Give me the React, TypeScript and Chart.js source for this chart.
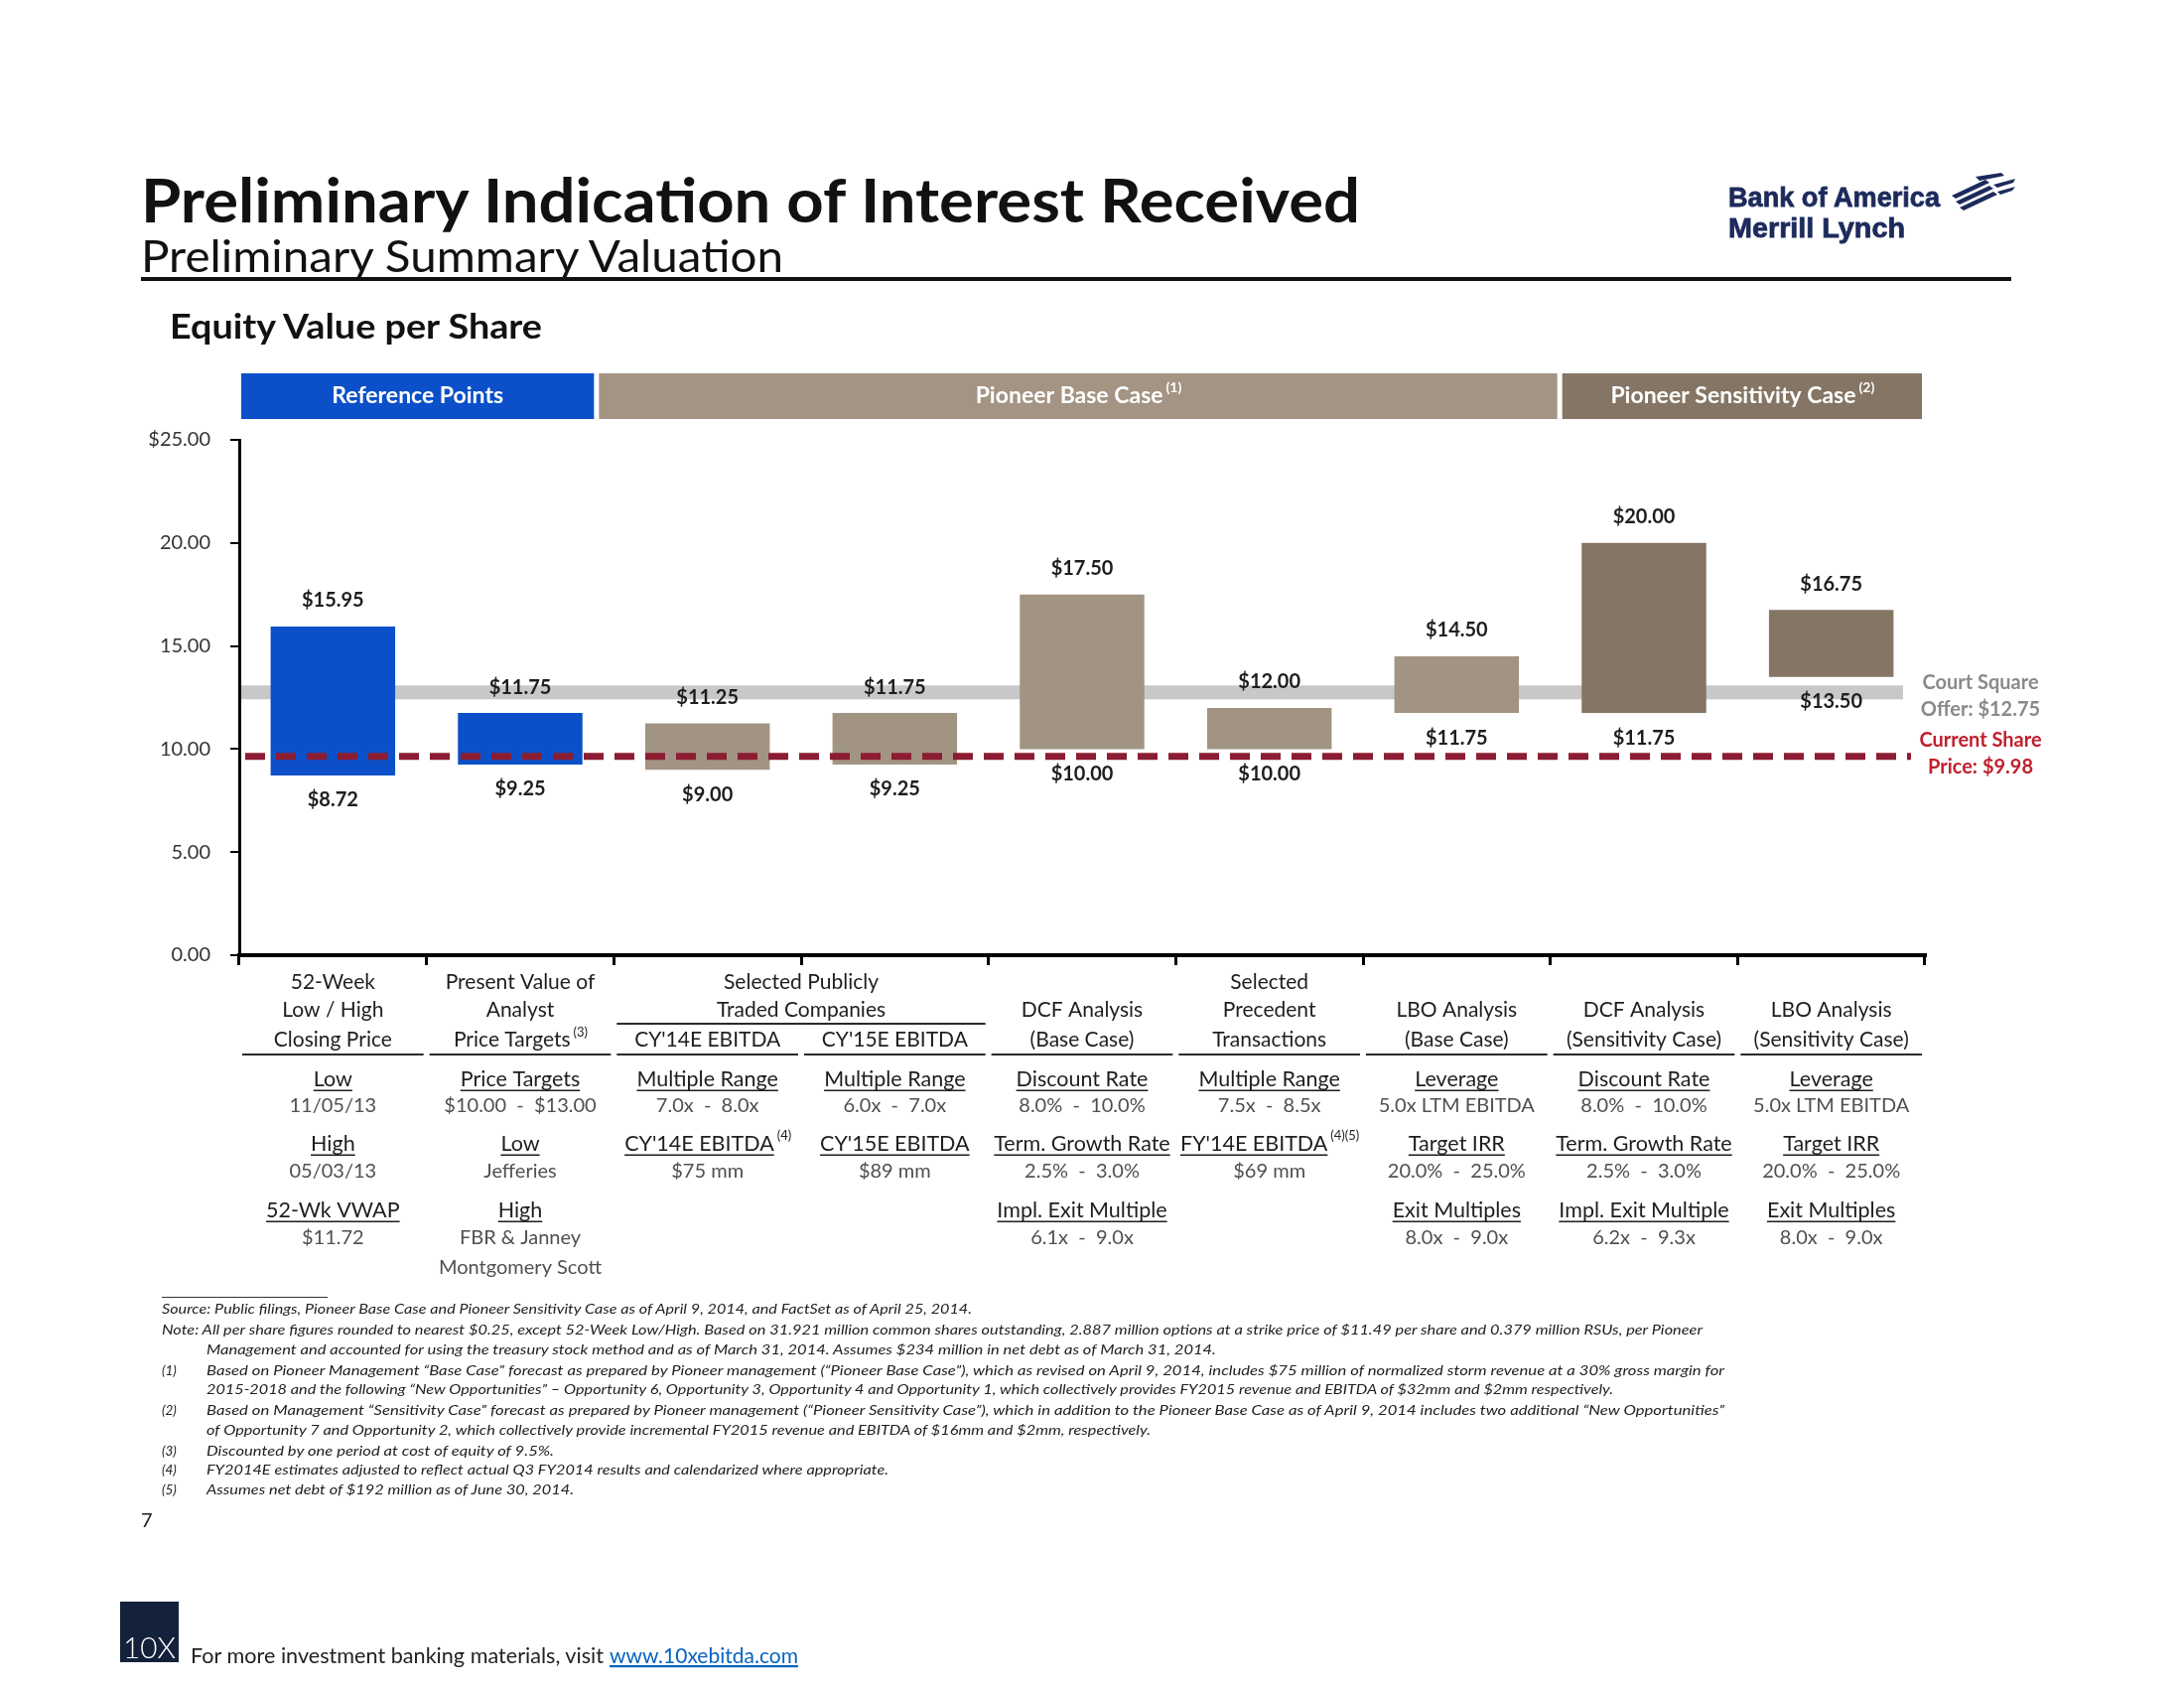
import React, { useEffect, useRef } from "react";
import { Chart, registerables } from "chart.js";

Chart.register(...registerables);

// ---------------- data ----------------
const categories = [
  "52-Week Low / High Closing Price",
  "Present Value of Analyst Price Targets",
  "Selected Publicly Traded Companies CY'14E EBITDA",
  "Selected Publicly Traded Companies CY'15E EBITDA",
  "DCF Analysis (Base Case)",
  "Selected Precedent Transactions",
  "LBO Analysis (Base Case)",
  "DCF Analysis (Sensitivity Case)",
  "LBO Analysis (Sensitivity Case)",
];
const lowValues = [8.72, 9.25, 9.0, 9.25, 10.0, 10.0, 11.75, 11.75, 13.5];
const highValues = [15.95, 11.75, 11.25, 11.75, 17.5, 12.0, 14.5, 20.0, 16.75];
const caseGroups = ["ref", "ref", "base", "base", "base", "base", "base", "sens", "sens"];

const yMin = 0;
const yMax = 25;
const yStep = 5;

const offerPrice = 12.75;
const currentSharePrice = 9.98;
const offerLabel = ["Court Square", "Offer: $" + offerPrice.toFixed(2)];
const currentLabel = ["Current Share", "Price: $" + currentSharePrice.toFixed(2)];

const bandGroups = ["ref", "base", "sens"];
const bandLabels = ["Reference Points", "Pioneer Base Case", "Pioneer Sensitivity Case"];
const bandNotes = ["", "(1)", "(2)"];

const headerRow1 = ["52-Week", "Present Value of", "", "", "", "Selected", "", "", ""];
const headerRow2 = ["Low / High", "Analyst", "", "", "DCF Analysis", "Precedent", "LBO Analysis", "DCF Analysis", "LBO Analysis"];
const headerRow3 = ["Closing Price", "Price Targets", "CY'14E EBITDA", "CY'15E EBITDA", "(Base Case)", "Transactions", "(Base Case)", "(Sensitivity Case)", "(Sensitivity Case)"];
const headerRow3Notes = ["", "(3)", "", "", "", "", "", "", ""];
const spanHeaderLines = ["Selected Publicly", "Traded Companies"];
const spanHeaderColumns = [2, 3];

const detailLabels1 = ["Low", "Price Targets", "Multiple Range", "Multiple Range", "Discount Rate", "Multiple Range", "Leverage", "Discount Rate", "Leverage"];
const detailValues1 = ["11/05/13", "$10.00  -  $13.00", "7.0x  -  8.0x", "6.0x  -  7.0x", "8.0%  -  10.0%", "7.5x  -  8.5x", "5.0x LTM EBITDA", "8.0%  -  10.0%", "5.0x LTM EBITDA"];
const detailLabels2 = ["High", "Low", "CY'14E EBITDA", "CY'15E EBITDA", "Term. Growth Rate", "FY'14E EBITDA", "Target IRR", "Term. Growth Rate", "Target IRR"];
const detailNotes2 = ["", "", "(4)", "", "", "(4)(5)", "", "", ""];
const detailValues2 = ["05/03/13", "Jefferies", "$75 mm", "$89 mm", "2.5%  -  3.0%", "$69 mm", "20.0%  -  25.0%", "2.5%  -  3.0%", "20.0%  -  25.0%"];
const detailLabels3 = ["52-Wk VWAP", "High", "", "", "Impl. Exit Multiple", "", "Exit Multiples", "Impl. Exit Multiple", "Exit Multiples"];
const detailValues3 = ["$11.72", "FBR & Janney", "", "", "6.1x  -  9.0x", "", "8.0x  -  9.0x", "6.2x  -  9.3x", "8.0x  -  9.0x"];
const detailValues4 = ["", "Montgomery Scott", "", "", "", "", "", "", ""];

const footnoteMarkers = ["", "", "", "(1)", "", "(2)", "", "(3)", "(4)", "(5)"];
const footnoteLines = [
  "Source: Public filings, Pioneer Base Case and Pioneer Sensitivity Case as of April 9, 2014, and FactSet as of April 25, 2014.",
  "Note: All per share figures rounded to nearest $0.25, except 52-Week Low/High. Based on 31.921 million common shares outstanding, 2.887 million options at a strike price of $11.49 per share and 0.379 million RSUs, per Pioneer",
  "Management and accounted for using the treasury stock method and  as of March 31, 2014. Assumes $234 million in net debt as of March 31, 2014.",
  "Based on Pioneer Management \u201cBase Case\u201d forecast as prepared by Pioneer management (\u201cPioneer Base Case\u201d), which as revised on April 9, 2014, includes $75 million of normalized storm revenue at a 30% gross margin for",
  "2015-2018 and the following \u201cNew Opportunities\u201d \u2013 Opportunity 6, Opportunity 3, Opportunity 4 and Opportunity 1, which collectively provides FY2015 revenue and EBITDA of $32mm and $2mm respectively.",
  "Based on Management \u201cSensitivity Case\u201d forecast as prepared by Pioneer management (\u201cPioneer Sensitivity Case\u201d), which in addition to the Pioneer Base Case as of April 9, 2014 includes two additional \u201cNew Opportunities\u201d",
  "of Opportunity 7 and Opportunity 2, which collectively provide incremental FY2015 revenue and EBITDA of $16mm and $2mm, respectively.",
  "Discounted by one period at cost of equity of 9.5%.",
  "FY2014E estimates adjusted to reflect actual Q3 FY2014 results and calendarized where appropriate.",
  "Assumes net debt of $192 million as of June 30, 2014.",
];

// ---------------- styles ----------------
const FONT = "Lato, 'Open Sans', sans-serif";
const groupBarColors: Record<string, string> = { ref: "#0b50c8", base: "#a29483", sens: "#857565" };
const groupBandColors: Record<string, string> = { ref: "#0b50c8", base: "#a39483", sens: "#857565" };

function drawTextWithNote(
  ctx: CanvasRenderingContext2D,
  text: string,
  note: string,
  cx: number,
  cy: number,
  size: number,
  weight: string,
  color: string,
  underline: boolean
) {
  ctx.font = `${weight} ${size}px ${FONT}`;
  const w = ctx.measureText(text).width;
  const noteSize = Math.round(size * 0.6);
  let nw = 0;
  if (note) {
    ctx.font = `${weight} ${noteSize}px ${FONT}`;
    nw = ctx.measureText(note).width + 2;
  }
  const left = cx - (w + nw) / 2;
  ctx.fillStyle = color;
  ctx.textAlign = "left";
  ctx.textBaseline = "middle";
  ctx.font = `${weight} ${size}px ${FONT}`;
  ctx.fillText(text, left, cy);
  if (underline) {
    ctx.strokeStyle = color;
    ctx.lineWidth = 1.5;
    ctx.beginPath();
    ctx.moveTo(left, cy + size * 0.52);
    ctx.lineTo(left + w, cy + size * 0.52);
    ctx.stroke();
  }
  if (note) {
    ctx.font = `${weight} ${noteSize}px ${FONT}`;
    ctx.fillText(note, left + w + 3, cy - size * 0.36);
  }
}

const pagePlugin = {
  id: "pagePlugin",
  beforeDatasetsDraw(chart: any) {
    const { ctx, chartArea, scales } = chart;
    const y = scales.y;
    const yy = y.getPixelForValue(offerPrice);
    ctx.save();
    ctx.fillStyle = "#c8c8c8";
    ctx.fillRect(chartArea.left + 2, yy - 7, chartArea.right - 22 - chartArea.left - 2, 14);
    ctx.restore();
  },
  afterDatasetsDraw(chart: any) {
    const { ctx, chartArea, scales } = chart;
    const x = scales.x;
    const y = scales.y;
    const half = (x.getPixelForValue(1) - x.getPixelForValue(0)) / 2;
    ctx.save();

    // current share price dashed line
    const ry = y.getPixelForValue(currentSharePrice);
    ctx.strokeStyle = "#8c1c32";
    ctx.lineWidth = 7;
    ctx.setLineDash([20, 11]);
    ctx.beginPath();
    ctx.moveTo(chartArea.left + 6, ry + 7);
    ctx.lineTo(chartArea.right - 14, ry + 7);
    ctx.stroke();
    ctx.setLineDash([]);

    // bar value labels
    const meta = chart.getDatasetMeta(0);
    meta.data.forEach((bar: any, i: number) => {
      const top = y.getPixelForValue(highValues[i]);
      const bottom = y.getPixelForValue(lowValues[i]);
      drawTextWithNote(ctx, "$" + highValues[i].toFixed(2), "", bar.x, top - 26, 20, "bold", "#1e1e1e", false);
      drawTextWithNote(ctx, "$" + lowValues[i].toFixed(2), "", bar.x, bottom + 25, 20, "bold", "#1e1e1e", false);
    });

    // right-side annotations
    const ax = chartArea.right + 56;
    const oy = y.getPixelForValue(offerPrice);
    drawTextWithNote(ctx, offerLabel[0], "", ax, oy - 10, 20, "bold", "#8a8a8a", false);
    drawTextWithNote(ctx, offerLabel[1], "", ax, oy + 17, 20, "bold", "#8a8a8a", false);
    drawTextWithNote(ctx, currentLabel[0], "", ax, ry - 9, 20, "bold", "#c0202e", false);
    drawTextWithNote(ctx, currentLabel[1], "", ax, ry + 18, 20, "bold", "#c0202e", false);

    // header bands
    const bandAdjust: Record<string, [number, number]> = { ref: [2, -20], base: [-15, 7], sens: [12, -3] };
    bandGroups.forEach((g, bi) => {
      const idx = caseGroups.map((c, i) => (c === g ? i : -1)).filter((i) => i >= 0);
      const l = x.getPixelForValue(idx[0]) - half + bandAdjust[g][0];
      const r = x.getPixelForValue(idx[idx.length - 1]) + half + bandAdjust[g][1];
      ctx.fillStyle = groupBandColors[g];
      ctx.fillRect(l, 376, r - l, 46);
      drawTextWithNote(ctx, bandLabels[bi], bandNotes[bi], (l + r) / 2, 399, 23, "bold", "#ffffff", false);
    });

    // table under the axis
    const headRows = [headerRow1, headerRow2, headerRow3];
    const headY = [989, 1017, 1047];
    for (let i = 0; i < categories.length; i++) {
      const cx = x.getPixelForValue(i);
      headRows.forEach((row, r) => {
        if (row[i]) drawTextWithNote(ctx, row[i], r === 2 ? headerRow3Notes[i] : "", cx, headY[r], 21, "normal", "#1e1e1e", false);
      });
      // column underline
      ctx.strokeStyle = "#2a2a2a";
      ctx.lineWidth = 2;
      ctx.beginPath();
      ctx.moveTo(cx - half + 3, 1062);
      ctx.lineTo(cx + half - 3, 1062);
      ctx.stroke();

      if (detailLabels1[i]) drawTextWithNote(ctx, detailLabels1[i], "", cx, 1087, 21.5, "normal", "#1e1e1e", true);
      if (detailValues1[i]) drawTextWithNote(ctx, detailValues1[i], "", cx, 1114, 20, "normal", "#505050", false);
      if (detailLabels2[i]) drawTextWithNote(ctx, detailLabels2[i], detailNotes2[i], cx, 1152, 21.5, "normal", "#1e1e1e", true);
      if (detailValues2[i]) drawTextWithNote(ctx, detailValues2[i], "", cx, 1180, 20, "normal", "#505050", false);
      if (detailLabels3[i]) drawTextWithNote(ctx, detailLabels3[i], "", cx, 1219, 21.5, "normal", "#1e1e1e", true);
      if (detailValues3[i]) drawTextWithNote(ctx, detailValues3[i], "", cx, 1247, 20, "normal", "#505050", false);
      if (detailValues4[i]) drawTextWithNote(ctx, detailValues4[i], "", cx, 1277, 20, "normal", "#505050", false);
    }
    // spanning header
    const sl = x.getPixelForValue(spanHeaderColumns[0]) - half;
    const sr = x.getPixelForValue(spanHeaderColumns[1]) + half;
    drawTextWithNote(ctx, spanHeaderLines[0], "", (sl + sr) / 2, headY[0], 21, "normal", "#1e1e1e", false);
    drawTextWithNote(ctx, spanHeaderLines[1], "", (sl + sr) / 2, headY[1], 21, "normal", "#1e1e1e", false);
    ctx.strokeStyle = "#2a2a2a";
    ctx.lineWidth = 2;
    ctx.beginPath();
    ctx.moveTo(sl + 3, 1031);
    ctx.lineTo(sr - 3, 1031);
    ctx.stroke();

    ctx.restore();
  },
};

export default function App() {
  const canvasRef = useRef<HTMLCanvasElement>(null);

  useEffect(() => {
    const canvas = canvasRef.current;
    if (!canvas) return;
    const chart = new Chart(canvas, {
      type: "bar",
      data: {
        labels: categories,
        datasets: [
          {
            data: categories.map((_, i) => [lowValues[i], highValues[i]]) as any,
            backgroundColor: caseGroups.map((g) => groupBarColors[g]),
            borderWidth: 0,
            barPercentage: 0.665,
            categoryPercentage: 1,
          },
        ],
      },
      options: {
        responsive: false,
        maintainAspectRatio: false,
        animation: false,
        devicePixelRatio: 1,
        layout: { padding: { top: 443, right: 261, bottom: 0, left: 0 } },
        plugins: { legend: { display: false }, tooltip: { enabled: false }, title: { display: false } },
        scales: {
          x: {
            offset: true,
            grid: { display: true, offset: true, drawOnChartArea: false, drawTicks: true, tickLength: 10, color: "#000", lineWidth: 3 },
            border: { display: true, color: "#000", width: 4 },
            ticks: { display: false },
            afterFit: (s: any) => {
              s.height = 738;
            },
          },
          y: {
            min: yMin,
            max: yMax,
            ticks: {
              stepSize: yStep,
              padding: 20,
              color: "#333",
              font: { family: FONT, size: 20 },
              callback: (v: any) => (Number(v) === yMax ? "$" : "") + Number(v).toFixed(2),
            },
            grid: { drawOnChartArea: false, drawTicks: true, tickLength: 9, color: "#000", lineWidth: 2 },
            border: { display: true, color: "#000", width: 3 },
            afterFit: (s: any) => {
              s.width = 241;
            },
          },
        },
      },
      plugins: [pagePlugin],
    });
    return () => chart.destroy();
  }, []);

  const footY = [1323, 1344, 1364, 1385, 1404, 1425, 1445, 1466, 1485, 1505];
  const footX = [163, 163, 208, 208, 208, 208, 208, 208, 208, 208];
  const footW = [816, 1552, 1017, 1529, 1417, 1529, 951, 350, 687, 370];

  return (
    <div style={{ position: "absolute", left: 0, top: 0, width: 2200, height: 1700, background: "#fff", overflow: "hidden" }}>
      <canvas ref={canvasRef} width={2200} height={1700} style={{ position: "absolute", left: 0, top: 0, width: 2200, height: 1700 }} />
      <svg width={2200} height={1700} style={{ position: "absolute", left: 0, top: 0, pointerEvents: "none" }}>
        <text x={142} y={224} fontFamily={FONT} fontWeight="bold" fontSize={62} fill="#111" textLength={1228} lengthAdjust="spacingAndGlyphs">
          Preliminary Indication of Interest Received
        </text>
        <text x={142} y={274} fontFamily={FONT} fontSize={44} fill="#111" textLength={647} lengthAdjust="spacingAndGlyphs">
          Preliminary Summary Valuation
        </text>
        <rect x={142} y={279} width={1884} height={4} fill="#111" />
        <text x={171} y={341} fontFamily={FONT} fontWeight="bold" fontSize={35} fill="#111" textLength={375} lengthAdjust="spacingAndGlyphs">
          Equity Value per Share
        </text>

        {/* logo */}
        <text x={1741} y={208} fontFamily="'Liberation Sans', Arial, sans-serif" fontWeight="bold" fontSize={28} fill="#1c2a5c" stroke="#1c2a5c" strokeWidth={0.8} textLength={213} lengthAdjust="spacingAndGlyphs">
          Bank of America
        </text>
        <text x={1741} y={239} fontFamily="'Liberation Sans', Arial, sans-serif" fontWeight="bold" fontSize={28} fill="#1c2a5c" stroke="#1c2a5c" strokeWidth={0.8} textLength={178} lengthAdjust="spacingAndGlyphs">
          Merrill Lynch
        </text>
        <g fill="#1c2a5c">
          <polygon points="1966,197 2000,181 2004,184 1970,200" />
          <polygon points="1970,203 2004,187 2008,190 1974,206" />
          <polygon points="1974,209 2008,193 2012,196 1978,212" />
          <polygon points="1990,178 2016,174 2019,177 1994,182" />
          <polygon points="2008,186 2030,180 2028,184 2012,189" />
          <polygon points="2012,193 2030,188 2027,192 2015,196" />
        </g>

        {/* footnotes */}
        <rect x={163} y={1306} width={167} height={1} fill="#333" />
        {footnoteLines.map((t, i) => (
          <g key={i}>
            {footnoteMarkers[i] ? (
              <text x={163} y={footY[i]} fontFamily={FONT} fontStyle="italic" fontSize={13.5} fill="#222">
                {footnoteMarkers[i]}
              </text>
            ) : null}
            <text x={footX[i]} y={footY[i]} fontFamily={FONT} fontStyle="italic" fontSize={13.5} fill="#222" textLength={footW[i]} lengthAdjust="spacingAndGlyphs">
              {t}
            </text>
          </g>
        ))}
        <text x={142} y={1538} fontFamily={FONT} fontSize={20} fill="#222">
          7
        </text>

        {/* footer */}
        <rect x={121} y={1613} width={59} height={61} fill="#13213b" />
        <text x={124} y={1670} fontFamily={FONT} fontWeight="300" fontSize={30} fill="#ffffff" textLength={53} lengthAdjust="spacingAndGlyphs">
          10X
        </text>
        <text x={192} y={1675} fontFamily={FONT} fontSize={22} fill="#222" textLength={416} lengthAdjust="spacingAndGlyphs">
          For more investment banking materials, visit
        </text>
        <text x={614} y={1675} fontFamily={FONT} fontSize={22} fill="#0563c1" textDecoration="underline" textLength={190} lengthAdjust="spacingAndGlyphs">
          www.10xebitda.com
        </text>
      </svg>
    </div>
  );
}
